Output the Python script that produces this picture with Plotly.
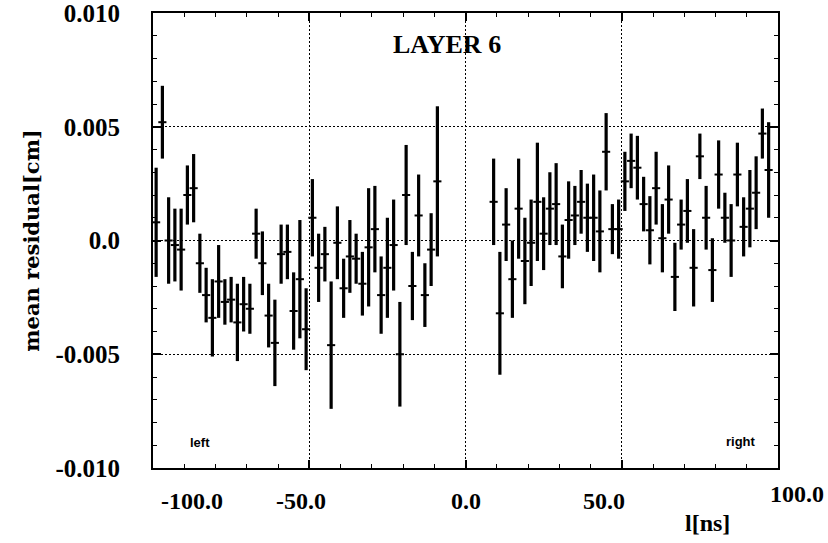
import plotly.graph_objects as go

# Drift-time bins (bin centres, ns) and mean residuals with their errors (cm)
t_left = [-99, -97, -95, -93, -91, -89, -87, -85, -83, -81, -79, -77, -75, -73, -71, -69,
          -67, -65, -63, -61, -59, -57, -55, -53, -51, -49, -47, -45, -43, -41, -39, -37,
          -35, -33, -31, -29, -27, -25, -23, -21, -19, -17, -15, -13, -11, -9]
res_left = [0.0008, 0.0052, 0.0000, -0.0002, -0.0004, 0.0020, 0.0023, -0.0010, -0.0024, -0.0034,
            -0.0018, -0.0027, -0.0026, -0.0036, -0.0028, -0.0030, 0.0003, -0.0010, -0.0033, -0.0045,
            -0.0006, -0.0005, -0.0031, -0.0017, -0.0039, 0.0010, -0.0012, -0.0006, -0.0046, -0.0001,
            -0.0021, -0.0007, -0.0008, -0.0019, -0.0003, 0.0005, -0.0024, -0.0012, -0.0002, -0.0050,
            0.0020, -0.0020, 0.0011, -0.0024, -0.0004, 0.0026]
err_left = [0.0024, 0.0016, 0.0019, 0.0016, 0.0018, 0.0013, 0.0015, 0.0013, 0.0012, 0.0017,
            0.0016, 0.0010, 0.0010, 0.0017, 0.0012, 0.0011, 0.0011, 0.0014, 0.0014, 0.0019,
            0.0013, 0.0012, 0.0017, 0.0026, 0.0018, 0.0017, 0.0015, 0.0012, 0.0028, 0.0016,
            0.0013, 0.0016, 0.0011, 0.0014, 0.0026, 0.0019, 0.0017, 0.0022, 0.0020, 0.0023,
            0.0022, 0.0015, 0.0018, 0.0014, 0.0016, 0.0033]

t_right = [9, 11, 13, 15, 17, 19, 21, 23, 25, 27, 29, 31, 33, 35, 37, 39, 41, 43, 45, 47, 49,
           51, 53, 55, 57, 59, 61, 63, 65, 67, 69, 71, 73, 75, 77, 79, 81, 83, 85, 87, 89, 91,
           93, 95, 97]
res_right = [0.0017, -0.0032, 0.0007, -0.0017, 0.0014, -0.0009, -0.0001, 0.0017, 0.0003, 0.0014,
             0.0016, -0.0007, 0.0009, 0.0011, 0.0017, 0.0010, 0.0010, 0.0004, 0.0039, 0.0005,
             0.0005, 0.0026, 0.0035, 0.0032, 0.0016, 0.00045, 0.0023, 0.0001, 0.0018, -0.0016,
             0.0007, 0.0013, -0.0012, 0.0037, 0.0010, -0.0013, 0.0029, 0.0010, 0.0000, 0.0029,
             0.0006, 0.0014, 0.0021, 0.0047, 0.0031]
err_right = [0.0019, 0.0027, 0.0016, 0.0017, 0.0022, 0.0019, 0.0019, 0.0026, 0.0016, 0.0016,
             0.0018, 0.0014, 0.0017, 0.0013, 0.0014, 0.0015, 0.0019, 0.0018, 0.0017, 0.0011,
             0.0013, 0.0013, 0.0012, 0.0014, 0.0012, 0.0015, 0.0016, 0.0015, 0.0015, 0.0015,
             0.0011, 0.0014, 0.0017, 0.0010, 0.0014, 0.0014, 0.0015, 0.0011, 0.0016, 0.0014,
             0.0013, 0.0017, 0.0016, 0.0011, 0.0021]

bin_half_width = 1.3

x_tick_vals = [-100, -50, 0, 50, 100]
x_tick_text = ["-100.0", "-50.0", "0.0", "50.0", "100.0"]
y_tick_vals = [-0.010, -0.005, 0.0, 0.005, 0.010]
y_tick_text = ["-0.010", "-0.005", "0.0", "0.005", "0.010"]

SERIF = "Liberation Serif"
WIDE_SERIF = "DejaVu Serif"
SANS = "Liberation Sans"

fig = go.Figure()
for t, r, e in [(t_left, res_left, err_left), (t_right, res_right, err_right)]:
    fig.add_trace(go.Scatter(
        x=t, y=r, mode="markers",
        marker=dict(size=1, color="black"),
        error_y=dict(type="data", array=e, visible=True, thickness=3.2, width=0, color="black"),
        error_x=dict(type="constant", value=bin_half_width, visible=True,
                     thickness=2, width=0, color="black"),
        showlegend=False, hoverinfo="skip",
    ))

axis_common = dict(
    showline=True, linewidth=2, linecolor="black", mirror="ticks",
    ticks="inside", ticklen=8, tickwidth=1.5, tickcolor="black",
    showgrid=True, gridcolor="black", gridwidth=1, griddash="2px,2px",
    zeroline=False, automargin=False,
)

fig.update_xaxes(
    range=[-100, 100], tickvals=x_tick_vals, showticklabels=False,
    minor=dict(dtick=10, ticks="inside", ticklen=4, tickwidth=1, tickcolor="black", showgrid=False),
    **axis_common,
)
fig.update_yaxes(
    range=[-0.010, 0.010], tickvals=y_tick_vals, ticktext=y_tick_text,
    tickfont=dict(family=SERIF, size=25, color="black", weight="bold"),
    ticklabelstandoff=26, ticklabeloverflow="allow",
    minor=dict(dtick=0.001, ticks="inside", ticklen=4, tickwidth=1, tickcolor="black", showgrid=False),
    **axis_common,
)

# x tick labels, placed in paper coordinates along the bottom of the frame
x_label_px = [0.062, 0.236, 0.500, 0.722, 1.030]
x_label_py = [-0.072, -0.072, -0.072, -0.072, -0.058]
annotations = []
for xx, txt, yy in zip(x_label_px, x_tick_text, x_label_py):
    annotations.append(dict(x=xx, y=yy, xref="paper", yref="paper", text=txt, showarrow=False,
                            xanchor="center", yanchor="middle",
                            font=dict(family=SERIF, size=24, color="black", weight="bold")))

annotations += [
    dict(x=-0.195, y=0.50, xref="paper", yref="paper", text="mean residual[cm]", textangle=-90,
         showarrow=False, xanchor="center", yanchor="middle",
         font=dict(family=WIDE_SERIF, size=21, color="black", weight="bold")),
    dict(x=0.848, y=-0.12, xref="paper", yref="paper", text="l[ns]", showarrow=False,
         xanchor="left", yanchor="middle",
         font=dict(family=SERIF, size=24, color="black", weight="bold")),
    dict(x=0.47, y=0.93, xref="paper", yref="paper", text="LAYER 6", showarrow=False,
         xanchor="center", yanchor="middle",
         font=dict(family=SERIF, size=26, color="black", weight="bold")),
    dict(x=0.075, y=0.055, xref="paper", yref="paper", text="left", showarrow=False,
         xanchor="center", yanchor="middle",
         font=dict(family=SANS, size=13, color="black", weight="bold")),
    dict(x=0.94, y=0.058, xref="paper", yref="paper", text="right", showarrow=False,
         xanchor="center", yanchor="middle",
         font=dict(family=SANS, size=13, color="black", weight="bold")),
]

fig.update_layout(
    width=828, height=543,
    margin=dict(l=153, r=50, t=13, b=75, autoexpand=False),
    paper_bgcolor="white", plot_bgcolor="white",
    annotations=annotations,
)

fig.write_html("out.html")
